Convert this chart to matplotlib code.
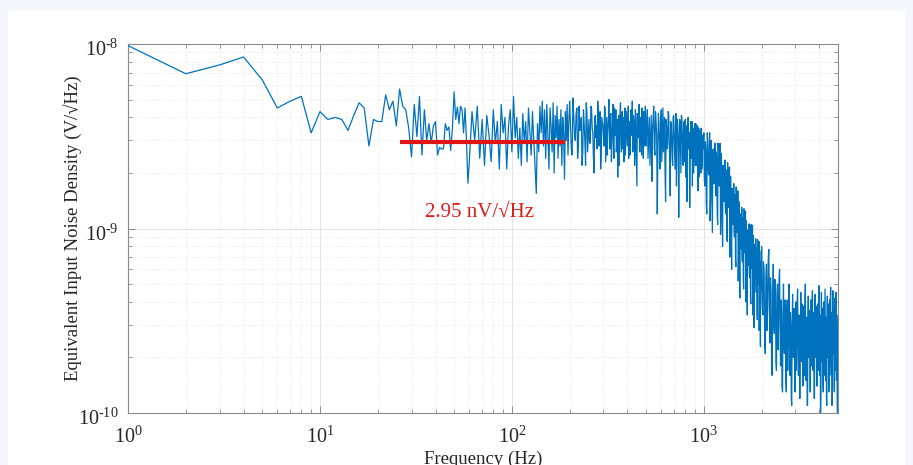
import numpy as np
import matplotlib
matplotlib.use("Agg")
import matplotlib.pyplot as plt
from matplotlib.patches import Rectangle
from matplotlib.transforms import ScaledTranslation
from matplotlib.ticker import LogLocator, NullFormatter, FuncFormatter

# ---------------- data (noise density in nV/sqrt(Hz)) ----------------
# 1 Hz bins, 1..59 Hz
seg_a_freq = list(range(1, 60))
seg_a_nv = [9.8, 6.9, 7.7, 8.5, 6.4, 4.5, 4.9, 5.2, 3.3, 4.3,
            3.9, 4.0, 3.9, 3.4, 4.1, 4.8, 4.5, 2.8, 3.9, 3.8,
            3.8, 5.3, 4.4, 4.9, 3.6, 5.7, 4.6, 4.4, 3.5, 2.45,
            4.7, 3.15, 5.2, 2.5, 4.4, 3.0, 3.7, 2.9, 3.6, 3.8,
            2.5, 2.75, 2.7, 2.7, 3.7, 3.4, 3.55, 2.65, 3.5, 5.5,
            3.9, 4.55, 3.7, 4.6, 4.4, 3.3, 4.5, 3.0, 1.76]
# 60..198 Hz, every 2 Hz
seg_b_freq = list(range(60, 200, 2))
seg_b_nv = [2.3, 4.3, 3.0, 4.6, 2.4, 3.9, 2.2, 4.1, 3.2, 2.3,
            4.4, 2.9, 3.8, 2.1, 4.7, 3.3, 4.0, 2.1, 3.6, 4.4,
            2.6, 5.2, 3.1, 4.0, 2.4, 3.5, 2.2, 4.2, 2.9, 3.8,
            2.3, 4.5, 3.4, 2.5, 4.3, 3.0, 2.2, 1.55, 3.7, 2.6,
            4.6, 3.3, 4.9, 2.8, 4.4, 2.4, 4.7, 3.2, 2.1, 4.5,
            3.6, 2.6, 4.8, 2.0, 4.1, 3.1, 4.6, 2.4, 3.9, 2.8,
            4.4, 2.2, 4.0, 3.3, 1.85, 4.3, 3.0, 4.7, 2.5, 3.8]
# 200..496 Hz, every 4 Hz
seg_c_freq = list(range(200, 500, 4))
seg_c_nv = [4.9, 2.7, 5.1, 3.2, 4.2, 2.4, 4.6, 3.5, 2.2, 4.4,
            3.0, 4.8, 2.6, 3.9, 2.9, 4.5, 3.3, 2.0, 4.1, 3.6,
            4.9, 2.8, 4.3, 2.5, 3.8, 3.1, 4.6, 2.3, 4.0, 3.4,
            5.0, 2.7, 4.2, 3.0, 4.7, 2.4, 3.7, 4.4, 2.9, 1.9,
            4.1, 3.2, 4.8, 2.6, 4.3, 3.5, 2.3, 4.5, 3.1, 4.0,
            2.8, 4.6, 3.3, 2.5, 4.2, 3.6, 4.9, 2.7, 3.9, 2.2,
            4.4, 3.0, 1.7, 4.1, 3.4, 4.7, 2.6, 3.8, 2.9, 4.5,
            3.2, 2.4, 4.3, 3.5, 4.6]
# 202..498 Hz, every 4 Hz
seg_c2_freq = list(range(202, 500, 4))
seg_c2_nv = [3.6, 2.5, 4.1, 3.0, 4.5, 2.8, 3.4, 4.0, 2.6, 3.7,
             2.2, 4.3, 3.2, 2.9, 4.6, 3.5, 2.4, 3.9, 3.1, 2.7,
             4.2, 3.3, 2.1, 4.0, 3.6, 2.8, 4.4, 3.0, 2.5, 3.8,
             3.4, 4.1, 2.3, 3.5, 2.9, 4.5, 3.2, 2.6, 3.9, 3.3,
             2.2, 4.2, 3.0, 3.7, 2.7, 4.0, 3.4, 2.5, 4.3, 3.1,
             3.6, 2.4, 3.8, 2.9, 4.4, 3.2, 2.6, 4.1, 3.5, 2.8,
             3.9, 2.3, 4.2, 3.1, 3.6, 2.7, 4.0, 3.3, 2.5, 3.8,
             3.0, 4.3, 2.8, 3.6, 3.2]
# 500..988 Hz, every 8 Hz
seg_d_freq = list(range(500, 996, 8))
seg_d_nv = [2.8, 4.4, 3.1, 2.2, 4.1, 3.4, 4.6, 2.5, 3.8, 1.2,
            4.2, 2.9, 3.6, 2.3, 4.5, 3.2, 2.0, 3.9, 2.7, 4.3,
            3.0, 1.5, 3.7, 2.4, 4.0, 3.3, 2.1, 4.2, 2.8, 3.5,
            1.15, 3.9, 2.6, 4.1, 3.1, 2.2, 3.8, 2.9, 1.9, 3.6,
            2.5, 4.0, 3.0, 1.3, 3.5, 2.4, 3.8, 2.7, 2.0, 3.4,
            2.9, 3.7, 2.2, 3.2, 1.6, 3.5, 2.6, 3.1, 2.0, 3.4,
            2.3, 3.0]
# 504..992 Hz, every 8 Hz
seg_d2_freq = list(range(504, 1000, 8))
seg_d2_nv = [3.6, 2.4, 4.0, 3.0, 1.8, 3.9, 2.7, 4.3, 3.2, 2.5,
             3.7, 2.1, 4.4, 3.3, 2.6, 4.0, 1.4, 3.5, 2.9, 4.2,
             2.4, 3.8, 3.1, 2.2, 4.1, 2.7, 3.6, 1.7, 3.9, 3.0,
             2.5, 3.7, 2.0, 4.0, 2.8, 3.4, 2.3, 3.9, 3.2, 1.4,
             3.6, 2.7, 3.3, 2.1, 3.8, 2.9, 1.7, 3.5, 2.5, 3.7,
             2.2, 3.3, 2.8, 3.6, 2.4, 1.9, 3.4, 2.6, 3.5, 2.1,
             3.2, 2.7]
# 1000..1984 Hz, every 12 Hz
seg_e_freq = list(range(1000, 1990, 12))
seg_e_nv = [3.3, 1.7, 2.7, 1.2, 3.0, 1.95, 3.3, 1.4, 2.3, 0.95,
            2.7, 1.75, 2.9, 1.5, 2.35, 1.05, 2.6, 1.7, 2.9, 1.2,
            1.95, 0.8, 2.2, 1.4, 2.35, 1.2, 1.85, 0.85, 2.0, 1.3,
            2.15, 0.9, 1.45, 0.6, 1.65, 1.05, 1.75, 0.9, 1.4, 0.62,
            1.45, 0.95, 1.6, 0.65, 1.07, 0.42, 1.2, 0.77, 1.3, 0.66,
            1.03, 0.47, 1.12, 0.74, 1.24, 0.51, 0.86, 0.34, 0.98, 0.63,
            1.06, 0.54, 0.85, 0.39, 0.93, 0.61, 1.04, 0.43, 0.72, 0.29,
            0.82, 0.53, 0.88, 0.45, 0.71, 0.32, 0.77, 0.5, 0.85, 0.35,
            0.58, 0.23, 0.66]
# 1006..1990 Hz, every 12 Hz
seg_e2_freq = list(range(1006, 1996, 12))
seg_e2_nv = [1.85, 2.95, 1.35, 3.3, 2.1, 2.6, 1.1, 3.0, 1.45, 2.6,
             1.85, 2.25, 1.6, 2.6, 1.2, 2.9, 1.8, 2.3, 0.93, 2.55,
             1.25, 2.2, 1.53, 1.83, 1.3, 2.08, 0.94, 2.28, 1.4, 1.73,
             0.7, 1.92, 0.93, 1.63, 1.14, 1.36, 0.97, 1.53, 0.69, 1.68,
             1.04, 1.27, 0.52, 1.4, 0.68, 1.18, 0.83, 1.0, 0.71, 1.14,
             0.52, 1.28, 0.79, 0.98, 0.4, 1.1, 0.55, 0.95, 0.68, 0.81,
             0.58, 0.94, 0.43, 1.05, 0.66, 0.82, 0.34, 0.92, 0.46, 0.8,
             0.57, 0.68, 0.49, 0.78, 0.35, 0.87, 0.54, 0.67, 0.28, 0.76,
             0.37, 0.65, 0.46]
# 2000..4970 Hz, every 30 Hz
seg_f_freq = list(range(2000, 5000, 30))
seg_f_nv = [0.8, 0.34, 0.6, 0.21, 0.64, 0.38, 0.77, 0.24, 0.46, 0.16,
            0.64, 0.27, 0.48, 0.17, 0.5, 0.3, 0.6, 0.18, 0.36, 0.13,
            0.5, 0.21, 0.38, 0.13, 0.41, 0.24, 0.5, 0.16, 0.31, 0.11,
            0.44, 0.2, 0.35, 0.13, 0.4, 0.24, 0.47, 0.16, 0.31, 0.12,
            0.45, 0.19, 0.36, 0.14, 0.38, 0.22, 0.5, 0.15, 0.29, 0.11,
            0.43, 0.21, 0.33, 0.13, 0.41, 0.25, 0.46, 0.17, 0.3, 0.12,
            0.44, 0.2, 0.37, 0.14, 0.39, 0.23, 0.49, 0.16, 0.32, 0.12,
            0.45, 0.19, 0.35, 0.13, 0.4, 0.24, 0.47, 0.15, 0.31, 0.11,
            0.43, 0.2, 0.36, 0.14, 0.41, 0.22, 0.48, 0.16, 0.3, 0.12,
            0.46, 0.21, 0.34, 0.13, 0.42, 0.25, 0.45, 0.15, 0.32, 0.1]
# 2015..4985 Hz, every 30 Hz
seg_f2_freq = list(range(2015, 5000, 30))
seg_f2_nv = [0.38, 0.66, 0.24, 0.54, 0.28, 0.68, 0.37, 0.54, 0.18, 0.43,
             0.3, 0.53, 0.19, 0.43, 0.22, 0.53, 0.29, 0.41, 0.14, 0.34,
             0.23, 0.41, 0.15, 0.34, 0.17, 0.43, 0.24, 0.35, 0.12, 0.29,
             0.21, 0.37, 0.14, 0.32, 0.17, 0.41, 0.23, 0.34, 0.12, 0.29,
             0.22, 0.39, 0.15, 0.31, 0.16, 0.43, 0.24, 0.33, 0.11, 0.28,
             0.2, 0.36, 0.13, 0.33, 0.18, 0.4, 0.22, 0.35, 0.12, 0.3,
             0.21, 0.38, 0.14, 0.31, 0.17, 0.42, 0.23, 0.34, 0.1, 0.29,
             0.22, 0.37, 0.15, 0.32, 0.16, 0.41, 0.24, 0.33, 0.12, 0.28,
             0.2, 0.39, 0.13, 0.31, 0.18, 0.43, 0.22, 0.35, 0.11, 0.3,
             0.21, 0.36, 0.14, 0.33, 0.17, 0.4, 0.23, 0.34, 0.12, 0.29]

avg_freq = [26, 190]          # Hz, extent of the average marker
avg_level_nv = 2.95           # nV/sqrt(Hz)
avg_label = "2.95 nV/\u221aHz"

x_ticks = [1, 10, 100, 1000]
y_ticks = [1e-10, 1e-9, 1e-8]

# ---------------- figure ----------------
plt.rcParams['font.family'] = ['Liberation Serif', 'DejaVu Serif']
plt.rcParams['mathtext.fontset'] = 'custom'
plt.rcParams['mathtext.rm'] = 'Liberation Serif'
plt.rcParams['mathtext.it'] = 'Liberation Serif:italic'
plt.rcParams['axes.unicode_minus'] = False

W, H = 913, 465
fig = plt.figure(figsize=(W / 100, H / 100), dpi=100)
fig.patch.set_facecolor('#f4f7fc')
panel = Rectangle((8 / W, 0), (905 - 8) / W, (H - 10) / H,
                  transform=fig.transFigure, facecolor='white',
                  edgecolor='none', zorder=-10)
fig.add_artist(panel)

ax = fig.add_axes([128 / W, (H - 413) / H, 710 / W, 369 / H])
ax.set_zorder(1)
ax.set_facecolor('white')

freq = np.array(seg_a_freq + seg_b_freq + seg_c_freq + seg_c2_freq + seg_d_freq
                + seg_d2_freq + seg_e_freq + seg_e2_freq + seg_f_freq + seg_f2_freq,
                dtype=float)
nv = np.array(seg_a_nv + seg_b_nv + seg_c_nv + seg_c2_nv + seg_d_nv
              + seg_d2_nv + seg_e_nv + seg_e2_nv + seg_f_nv + seg_f2_nv)
order = np.argsort(freq, kind='stable')
ax.plot(freq[order], nv[order] * 1e-9, color='#0072BD', lw=0.9, zorder=3)

ax.plot(avg_freq, [avg_level_nv * 1e-9] * 2, color='#e01414', lw=3.0,
        solid_capstyle='butt', zorder=4)
ax.text(68, 1.22e-9, avg_label, color='#dd1c1c', fontsize=15,
        ha='center', va='center', zorder=5)

ax.set_xscale('log')
ax.set_yscale('log')
ax.set_xlim(1, 5000)
ax.set_ylim(1e-10, 1e-8)

ax.set_xticks(x_ticks)
ax.set_yticks(y_ticks)


def pow10_label(v, pos):
    e = int(round(np.log10(v)))
    if e < 0:
        return r'$\mathdefault{10^{\text{-}%d}}$' % (-e)
    return r'$\mathdefault{10^{%d}}$' % e


ax.xaxis.set_major_formatter(FuncFormatter(pow10_label))
ax.yaxis.set_major_formatter(FuncFormatter(pow10_label))
ax.xaxis.set_minor_locator(LogLocator(base=10, subs=np.arange(2, 10), numticks=20))
ax.yaxis.set_minor_locator(LogLocator(base=10, subs=np.arange(2, 10), numticks=20))
ax.xaxis.set_minor_formatter(NullFormatter())
ax.yaxis.set_minor_formatter(NullFormatter())

ax.grid(True, which='major', color='#dedede', lw=0.6, ls='-', zorder=0)
ax.grid(True, which='minor', color='#e4e4e4', lw=0.6, ls=':', zorder=0)
ax.set_axisbelow(True)

for s in ax.spines.values():
    s.set_color('#8a8a8a')
    s.set_linewidth(0.8)
ax.tick_params(which='both', direction='in', top=True, right=True,
               color='#8a8a8a', labelcolor='#262626', labelsize=14.5)
ax.tick_params(which='major', length=5, width=0.7)
ax.tick_params(axis='x', which='major', pad=10)
ax.tick_params(axis='y', which='major', pad=7)
ax.tick_params(which='minor', length=3, width=0.6)

# MATLAB-style: y tick labels sit slightly lower (superscript-centred)
for t in ax.yaxis.get_major_ticks():
    t.label1.set_transform(t.label1.get_transform()
                           + ScaledTranslation(0, -3 / 72, fig.dpi_scale_trans))

ax.set_xlabel('Frequency (Hz)', fontsize=13.5, color='#262626', labelpad=2)
ax.set_ylabel('Equivalent Input Noise Density (V/\u221aHz)', fontsize=13.5,
              color='#262626', labelpad=-3)

fig.savefig('out.png', dpi=100, facecolor=fig.get_facecolor())
